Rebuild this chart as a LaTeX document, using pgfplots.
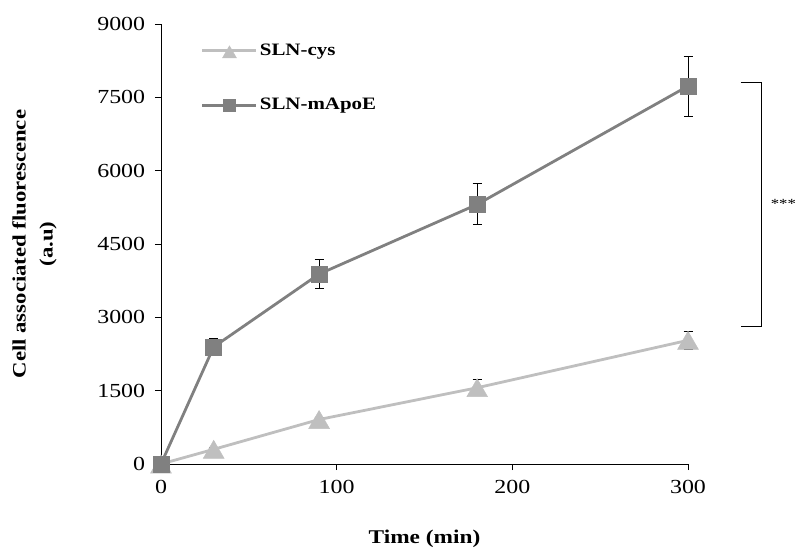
\documentclass[border=0pt]{standalone}
\usepackage{fontspec}
\setmainfont{Liberation Serif}[FakeStretch=1.2]
\usepackage{pgfplots}
\usepackage{pgfplotstable}
\pgfplotsset{compat=1.18}
\definecolor{cysgray}{HTML}{BFBFBF}
\definecolor{apoegray}{HTML}{808080}

% time (min), fluorescence (a.u), error
\pgfplotstableread{
t   f     e
0   0     0
30  300   40
90  910   50
180 1560  160
300 2530  180
}\cys
\pgfplotstableread{
t   f     e
0   0     0
30  2395  175
90  3885  300
180 5310  420
300 7730  615
}\apoe

\pgfplotsset{
    errbar/.style={draw=none, mark=none, forget plot,
        error bars/.cd, y dir=both, y explicit,
        error bar style={black, line width=0.9bp},
        error mark options={rotate=90, mark size=4.5bp, black, line width=0.9bp}},
}

\begin{document}
\fontsize{20}{24}\selectfont
\begin{tikzpicture}
\begin{axis}[
    scale only axis,
    width=527bp, height=440bp,
    xmin=0, xmax=300,
    ymin=0, ymax=9000,
    xtick={0,100,200,300},
    ytick={0,1500,3000,4500,6000,7500,9000},
    axis x line*=bottom,
    axis y line*=left,
    axis line style={line width=0.8bp},
    tick align=outside,
    major tick length=6bp,
    tick style={line width=0.8bp, black},
    /pgf/number format/1000 sep={},
    /pgf/number format/assume math mode=true,
    tick label style={font=\fontsize{20}{24}\selectfont},
    yticklabel style={xshift=-3bp},
    xticklabel style={yshift=-3bp},
    xlabel={\textbf{Time (min)}},
    xlabel style={at={(axis description cs:0.5,-0.17)}, anchor=center, font=\fontsize{19.5}{24}\selectfont},
    ylabel={\textbf{Cell associated fluorescence}\\\textbf{(a.u)}},
    ylabel style={at={(axis description cs:-0.24,0.5)}, anchor=center, rotate=0, align=center, font=\fontsize{19}{27}\selectfont},
    legend style={at={(axis description cs:0.07,0.965)}, anchor=north west,
        draw=none, fill=none, font=\fontsize{17.5}{20}\selectfont\bfseries,
        row sep=36bp, nodes={inner sep=2bp}},
    legend cell align=left,
    legend image code/.code={
        \draw[mark repeat=2, mark phase=2] plot coordinates {(0bp,0bp) (27bp,0bp) (54bp,0bp)};
    },
    clip=false,
]
% error bars first, so the marks sit on top of them
\addplot[errbar] table[x=t, y=f, y error=e] {\cys};
\addplot[errbar] table[x=t, y=f, y error=e] {\apoe};

\addplot[color=cysgray, line width=2.8bp, mark=triangle*, mark size=12bp,
    mark options={fill=cysgray, draw=cysgray, line width=0.5bp, yshift=-3bp},
    legend image post style={mark size=8bp}]
    table[x=t, y=f] {\cys};
\addlegendentry{SLN-cys}
\addplot[color=apoegray, line width=2.8bp, mark=square*, mark size=8bp,
    mark options={fill=apoegray, draw=apoegray, line width=0.5bp},
    legend image post style={mark size=6bp}]
    table[x=t, y=f] {\apoe};
\addlegendentry{SLN-mApoE}

% significance bracket
\draw[line width=0.9bp, black] (axis cs:330,7800) -- (axis cs:342,7800) -- (axis cs:342,2820) -- (axis cs:330,2820);
\node[anchor=west, font=\fontsize{14}{16}\selectfont, inner sep=0pt] at (axis cs:347,5310) {***};
\end{axis}
\pgfresetboundingbox
\useasboundingbox (-161bp,-86bp) rectangle (635bp,464bp);
\end{tikzpicture}
\end{document}
